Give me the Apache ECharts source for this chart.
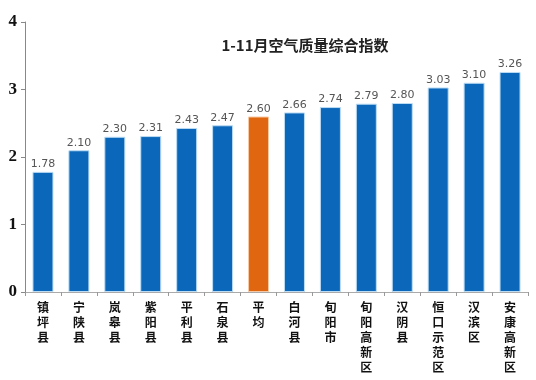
<!DOCTYPE html>
<html>
<head>
<meta charset="utf-8">
<script src="https://cdn.jsdelivr.net/npm/echarts@6/dist/echarts.min.js"></script>
<style>html,body{margin:0;padding:0;background:#fff}#c{width:536px;height:380px}</style>
</head>
<body>
<div id="c"></div>
<script>
const categories = ['镇坪县','宁陕县','岚皋县','紫阳县','平利县','石泉县','平均','白河县','旬阳市','旬阳高新区','汉阴县','恒口示范区','汉滨区','安康高新区'];
const values = [1.78, 2.10, 2.30, 2.31, 2.43, 2.47, 2.60, 2.66, 2.74, 2.79, 2.80, 3.03, 3.10, 3.26];
const highlightCategory = '平均';
const yTicks = [0, 1, 2, 3, 4];
const titleText = '1-11月空气质量综合指数';

const chart = echarts.init(document.getElementById('c'), null, {renderer: 'canvas'});
chart.setOption({
  animation: false,
  backgroundColor: '#fff',
  title: {
    text: titleText,
    left: 300, top: 33, textAlign: 'center',
    textStyle: {fontSize: 15, fontWeight: 'bold', color: '#222', fontFamily: '"Noto Sans CJK SC", sans-serif'}
  },
  grid: {left: 25, right: 8, top: 22, bottom: 88, containLabel: false},
  xAxis: {
    type: 'category',
    data: categories,
    axisLine: {lineStyle: {color: '#aaa', width: 1}},
    axisTick: {show: true, alignWithLabel: false, length: 4, lineStyle: {color: '#999'}},
    axisLabel: {
      interval: 0, margin: 8,
      color: '#111', fontSize: 12, fontWeight: 'bold', lineHeight: 15,
      fontFamily: '"Noto Sans CJK SC", sans-serif',
      formatter: v => v.split('').join('\n')
    }
  },
  yAxis: {
    type: 'value',
    min: yTicks[0], max: yTicks[yTicks.length - 1], interval: 1,
    splitLine: {show: false},
    axisLine: {show: true, lineStyle: {color: '#888', width: 1}},
    axisTick: {show: true, length: 4, lineStyle: {color: '#888'}},
    axisLabel: {color: '#111', fontSize: 17, fontWeight: 'bold', margin: 8, fontFamily: '"Liberation Serif", serif'}
  },
  series: [{
    type: 'bar',
    barWidth: 21,
    data: categories.map((c, i) => ({
      value: values[i],
      itemStyle: {color: c === highlightCategory ? '#e0670f' : '#0b67b9',
                  borderColor: c === highlightCategory ? '#f6c9a4' : '#bcdcf4', borderWidth: 1}
    })),
    label: {
      show: true, position: 'top', distance: 2,
      color: '#555', fontSize: 11, fontFamily: '"DejaVu Sans", sans-serif',
      formatter: p => p.value.toFixed(2)
    }
  }]
});
</script>
</body>
</html>
